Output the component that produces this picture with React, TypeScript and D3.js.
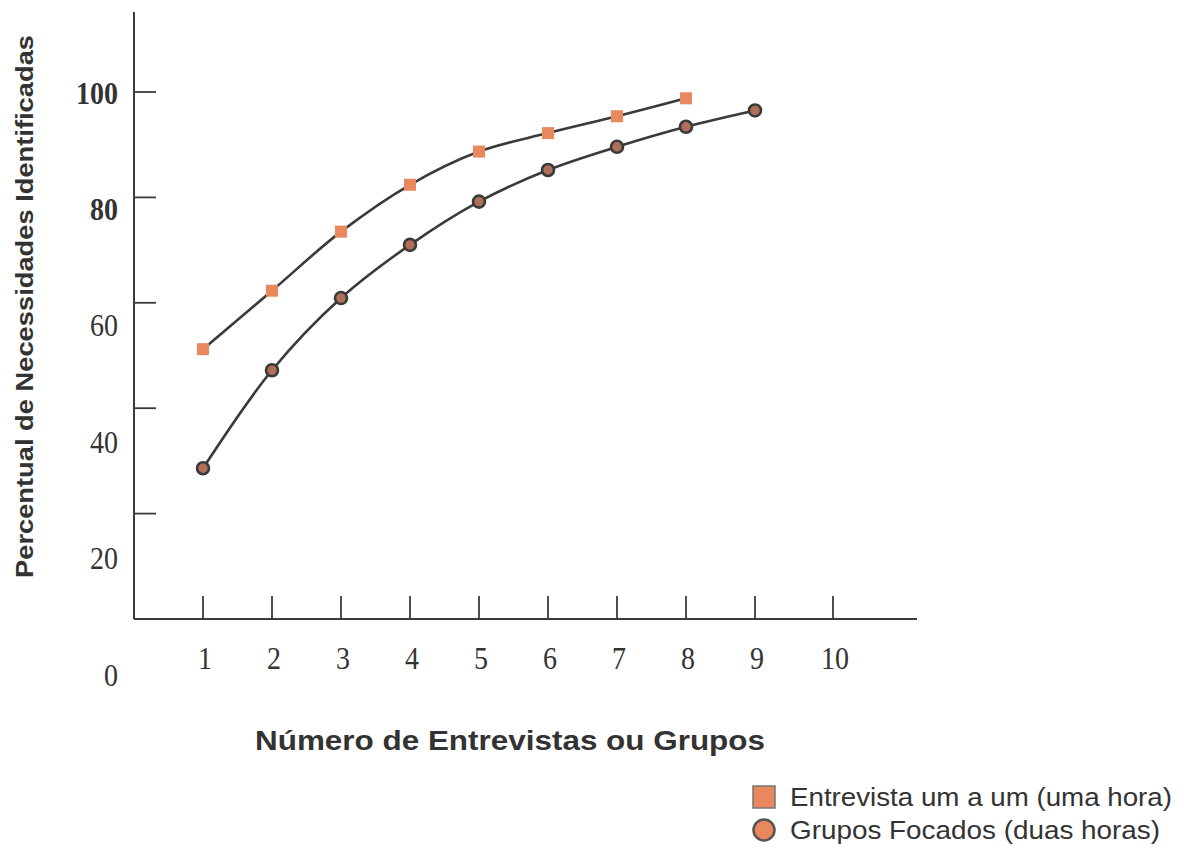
import React from "react";
import * as d3 from "d3";

const xTicks = [1, 2, 3, 4, 5, 6, 7, 8, 9, 10];
const yTicks = [20, 40, 60, 80, 100];
const yLabels = [0, 20, 40, 60, 80, 100];

const entrevistaX = [1, 2, 3, 4, 5, 6, 7, 8];
const entrevistaY = [51.2, 62.3, 73.5, 82.4, 88.7, 92.2, 95.4, 98.8];

const gruposX = [1, 2, 3, 4, 5, 6, 7, 8, 9];
const gruposY = [28.6, 47.2, 60.9, 71.0, 79.2, 85.2, 89.6, 93.4, 96.5];

const legendLabels = ["Entrevista um a um (uma hora)", "Grupos Focados (duas horas)"];
const yTitle = "Percentual de Necessidades Identificadas";
const xTitle = "Número de Entrevistas ou Grupos";

const W = 1184;
const H = 848;
const ORANGE = "#e9875d";
const INK = "#3a3a3a";
const SERIF = "'Liberation Serif', 'DejaVu Serif', serif";
const SANS = "'Liberation Sans', Arial, sans-serif";

export default function App() {
  const x = d3.scaleLinear().domain([1, 9]).range([203, 755]);
  const y = d3.scaleLinear().domain([0, 100]).range([619, 92]);
  // label positions in the scanned figure are spaced slightly wider than the ticks
  const yLab = d3.scaleLinear().domain([0, 100]).range([675, 93]);
  const xLabX = (v: number) => (v === 10 ? x(v) + 9 : x(v));
  const xTickX = (v: number) => (v === 10 ? x(v) + 9 : x(v));

  const line = d3
    .line<[number, number]>()
    .x((d) => x(d[0]))
    .y((d) => y(d[1]))
    .curve(d3.curveCatmullRom.alpha(0.5));

  const ent: [number, number][] = entrevistaX.map((v, i) => [v, entrevistaY[i]]);
  const grp: [number, number][] = gruposX.map((v, i) => [v, gruposY[i]]);

  const x0 = 134;
  const yBase = y(0);

  return (
    <svg
      width={W}
      height={H}
      style={{ position: "absolute", left: 0, top: 0, background: "#fff" }}
    >
      {/* axes */}
      <line x1={x0} x2={x0} y1={12} y2={yBase} stroke={INK} strokeWidth={2} />
      <line x1={x0} x2={917} y1={yBase} y2={yBase} stroke={INK} strokeWidth={2} />
      {yTicks.map((t) => (
        <line key={"yt" + t} x1={x0} x2={x0 + 22} y1={y(t)} y2={y(t)} stroke={INK} strokeWidth={1.8} />
      ))}
      {xTicks.map((t) => (
        <line key={"xt" + t} x1={xTickX(t)} x2={xTickX(t)} y1={yBase} y2={yBase - 23} stroke={INK} strokeWidth={1.8} />
      ))}

      {/* tick labels */}
      {yLabels.map((t) => (
        <text
          key={"yl" + t}
          transform={`translate(118,${yLab(t)}) scale(1,1.15)`}
          textAnchor="end"
          dominantBaseline="central"
          fontFamily={SERIF}
          fontSize={28}
          fontWeight={t === 100 || t === 80 ? 700 : 400}
          fill="#333"
        >
          {t}
        </text>
      ))}
      {xTicks.map((t) => (
        <text
          key={"xl" + t}
          transform={`translate(${xLabX(t) + 2},${658}) scale(1,1.15)`}
          textAnchor="middle"
          dominantBaseline="central"
          fontFamily={SERIF}
          fontSize={28}
          fill="#333"
        >
          {t}
        </text>
      ))}

      {/* titles */}
      <text
        transform={`translate(25,${(35 + 578) / 2}) rotate(-90)`}
        textAnchor="middle"
        dominantBaseline="central"
        fontFamily={SANS}
        fontWeight={700}
        fontSize={23}
        textLength={543}
        lengthAdjust="spacingAndGlyphs"
        fill="#333"
      >
        {yTitle}
      </text>
      <text
        x={510}
        y={740}
        textAnchor="middle"
        dominantBaseline="central"
        fontFamily={SANS}
        fontWeight={700}
        fontSize={28}
        textLength={510}
        lengthAdjust="spacingAndGlyphs"
        fill="#333"
      >
        {xTitle}
      </text>

      {/* lines */}
      <path d={line(ent) || ""} fill="none" stroke={INK} strokeWidth={2.6} />
      <path d={line(grp) || ""} fill="none" stroke={INK} strokeWidth={2.6} />

      {/* markers */}
      {ent.map((d, i) => (
        <rect
          key={"s" + i}
          x={x(d[0]) - 6}
          y={y(d[1]) - 6}
          width={12}
          height={12}
          fill={ORANGE}
        />
      ))}
      {grp.map((d, i) => (
        <circle
          key={"c" + i}
          cx={x(d[0])}
          cy={y(d[1])}
          r={6}
          fill="#b07058"
          stroke={INK}
          strokeWidth={2.6}
        />
      ))}

      {/* legend */}
      <rect x={753} y={786} width={22} height={22} fill={ORANGE} stroke="#777" strokeWidth={1.5} />
      <text
        x={790}
        y={797}
        dominantBaseline="central"
        fontFamily={SANS}
        fontSize={25}
        textLength={382}
        lengthAdjust="spacingAndGlyphs"
        fill="#333"
      >
        {legendLabels[0]}
      </text>
      <circle cx={764} cy={830} r={10.5} fill={ORANGE} stroke="#555" strokeWidth={2.5} />
      <text
        x={790}
        y={830}
        dominantBaseline="central"
        fontFamily={SANS}
        fontSize={25}
        textLength={370}
        lengthAdjust="spacingAndGlyphs"
        fill="#333"
      >
        {legendLabels[1]}
      </text>
    </svg>
  );
}
